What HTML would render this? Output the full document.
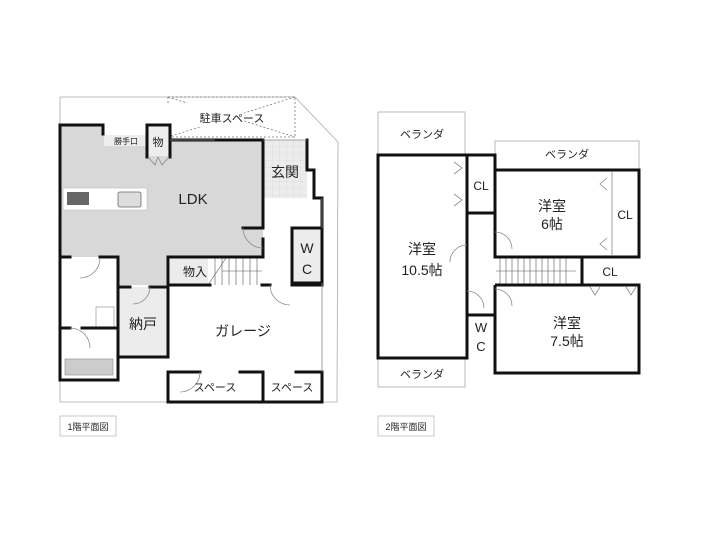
<!DOCTYPE html>
<html><head><meta charset="utf-8"><style>
html,body{margin:0;padding:0;background:#fff}
svg{display:block}
text{font-family:"Liberation Sans","Noto Sans CJK JP",sans-serif;fill:#222}
</style></head><body>
<svg width="727" height="544" viewBox="0 0 727 544" xmlns="http://www.w3.org/2000/svg">
<defs>
<pattern id="tile" width="7" height="7" patternUnits="userSpaceOnUse">
<rect width="7" height="7" fill="#ececec"/><path d="M7 0V7M0 7H7" stroke="#d6d6d6" stroke-width="0.6"/></pattern>
</defs>
<!-- ===== 1F ===== -->
<polyline points="60,97 295,97 338,142 337,402 60,402 60,97" fill="none" stroke="#aaa" stroke-width="0.8"/>
<g stroke="#777" stroke-width="0.8" stroke-dasharray="2,2" fill="none">
<rect x="168" y="97" width="127" height="40"/><path d="M168 97L295 137M295 97L168 137"/></g>
<rect x="152" y="103" width="92" height="24" fill="#fff"/>
<text x="232" y="122" font-size="11" text-anchor="middle">駐車スペース</text>
<!-- fills -->
<path d="M61 126H103V136H170V141H263V257H168V285H118V257H61Z" fill="#d8d8d8"/>
<rect x="104" y="135" width="43" height="11" fill="#ededed"/>
<rect x="148" y="127" width="21" height="29" fill="#ededed"/>
<rect x="263" y="140" width="44" height="58" fill="url(#tile)"/>
<rect x="292" y="229" width="30" height="54" fill="#ececec"/>
<rect x="170" y="258" width="38" height="27" fill="#ececec"/>
<rect x="118" y="287" width="50" height="70" fill="#ececec"/>
<rect x="63" y="188" width="84" height="22" fill="#fff" stroke="#bbb" stroke-width="0.6"/>
<rect x="67" y="192" width="22" height="13" fill="#666"/>
<rect x="118" y="192" width="23" height="15" rx="2" fill="#ddd" stroke="#666" stroke-width="0.8"/>
<rect x="65" y="359" width="48" height="16" fill="#ccc" stroke="#888" stroke-width="0.6"/>
<rect x="96" y="307" width="18" height="20" fill="#fff" stroke="#888" stroke-width="0.6"/>
<!-- stairs -->
<g stroke="#555" stroke-width="0.6">
<path d="M215 258V285M222 258V285M229 258V285M236 258V285M243 258V285M250 258V285M257 258V285M208 285L226 258M222 271H262"/></g>
<!-- walls -->
<g stroke="#111" stroke-width="3" fill="none" stroke-linecap="square">
<path d="M60 125H103V134M147 125H170V140H263V198M263 140V198"/>
<path d="M60 125V258"/>
<path d="M147 125V157M170 125V157"/>
<path d="M263 198V228H243M263 239V257M60 257H70M100 257H118V287H118M168 257H263"/>
<path d="M118 262V380M60 257V380H118"/>
<path d="M60 328H70M82 328H118"/>
<path d="M168 257V285H210M262 285H270M292 285H322M168 285V357M168 372V402H322V372"/>
<path d="M118 287H130M150 287H168"/>
<path d="M263 372H263V402M168 372H200M240 372H263M296 372H322"/>
<path d="M292 228H322V283H292Z"/>
<path d="M307 140V170H314V198H322V228"/>
<path d="M118 357H168"/>
</g>
<g stroke="#888" stroke-width="0.8" fill="none">
<path d="M322 283V372M263 140H307M170 140H215M322 198V228"/>
<path d="M243 228A20 20 0 0 0 263 248"/>
<path d="M100 258A20 20 0 0 1 80 278"/>
<path d="M150 287A17 17 0 0 1 133 304"/>
<path d="M270 285A20 20 0 0 0 290 305"/>
<path d="M70 328A20 20 0 0 1 90 348"/>
<path d="M200 372A20 20 0 0 1 180 392"/>
<path d="M148 157L155 165L158 157M169 157L162 165L158 157"/>
</g>
<text x="193" y="204" font-size="15" text-anchor="middle">LDK</text>
<text x="285" y="177" font-size="14" text-anchor="middle">玄関</text>
<text x="307" y="253" font-size="14" text-anchor="middle">W</text>
<text x="307" y="274" font-size="14" text-anchor="middle">C</text>
<text x="195" y="276" font-size="12" text-anchor="middle">物入</text>
<text x="143" y="329" font-size="14" text-anchor="middle">納戸</text>
<text x="243" y="336" font-size="14" text-anchor="middle">ガレージ</text>
<text x="215" y="391" font-size="11" text-anchor="middle">スペース</text>
<text x="292" y="391" font-size="11" text-anchor="middle">スペース</text>
<text x="126" y="144" font-size="8" text-anchor="middle">勝手口</text>
<text x="158" y="146" font-size="11" text-anchor="middle">物</text>
<!-- ===== 2F ===== -->
<g stroke="#aaa" stroke-width="0.8" fill="none">
<rect x="378" y="112" width="87" height="43"/>
<rect x="495" y="141" width="144" height="29"/>
<rect x="378" y="358" width="87" height="29"/></g>
<rect x="495" y="258" width="87" height="27" fill="#fff"/>
<g stroke="#555" stroke-width="0.6">
<path d="M500 258V285M506 258V285M512 258V285M518 258V285M524 258V285M530 258V285M536 258V285M542 258V285M548 258V285M554 258V285M560 258V285M566 258V285M496 271H576"/></g>
<g stroke="#111" stroke-width="3" fill="none">
<path d="M378 155H467V358H378Z"/>
<path d="M467 155H495V213H467"/>
<path d="M495 155V170H639V257H495V170"/>
<path d="M582 257V285M495 285H639V373H495V285"/>
<path d="M467 315H495V358M495 257V240M495 285V300"/>
</g>
<g stroke="#888" stroke-width="0.8" fill="none">
<path d="M612 172V255"/>
<path d="M462 168L454 162M462 168L454 174M462 200L454 194M462 200L454 206"/>
<path d="M607 178L600 184L607 190M607 238L600 244L607 250"/>
<path d="M590 287L595 295L600 287M626 287L631 295L636 287"/>
<path d="M467 245A17 17 0 0 0 450 262"/>
<path d="M495 232A17 17 0 0 1 512 249"/>
<path d="M495 289A17 17 0 0 1 512 306"/>
<path d="M467 291A17 17 0 0 1 484 308"/>
</g>
<text x="422" y="138" font-size="11" text-anchor="middle">ベランダ</text>
<text x="567" y="158" font-size="11" text-anchor="middle">ベランダ</text>
<text x="422" y="378" font-size="11" text-anchor="middle">ベランダ</text>
<text x="422" y="254" font-size="14" text-anchor="middle">洋室</text>
<text x="422" y="275" font-size="14" text-anchor="middle">10.5帖</text>
<text x="552" y="211" font-size="14" text-anchor="middle">洋室</text>
<text x="552" y="229" font-size="14" text-anchor="middle">6帖</text>
<text x="567" y="328" font-size="14" text-anchor="middle">洋室</text>
<text x="567" y="346" font-size="14" text-anchor="middle">7.5帖</text>
<text x="481" y="190" font-size="12" text-anchor="middle">CL</text>
<text x="625" y="219" font-size="12" text-anchor="middle">CL</text>
<text x="610" y="276" font-size="12" text-anchor="middle">CL</text>
<text x="481" y="332" font-size="13" text-anchor="middle">W</text>
<text x="481" y="351" font-size="13" text-anchor="middle">C</text>
<!-- captions -->
<rect x="60" y="416" width="56" height="20" fill="none" stroke="#bbb" stroke-width="0.8"/>
<text x="88" y="430" font-size="9" text-anchor="middle" fill="#444">1階平面図</text>
<rect x="378" y="416" width="56" height="20" fill="none" stroke="#bbb" stroke-width="0.8"/>
<text x="406" y="430" font-size="9" text-anchor="middle" fill="#444">2階平面図</text>
</svg>
</body></html>
